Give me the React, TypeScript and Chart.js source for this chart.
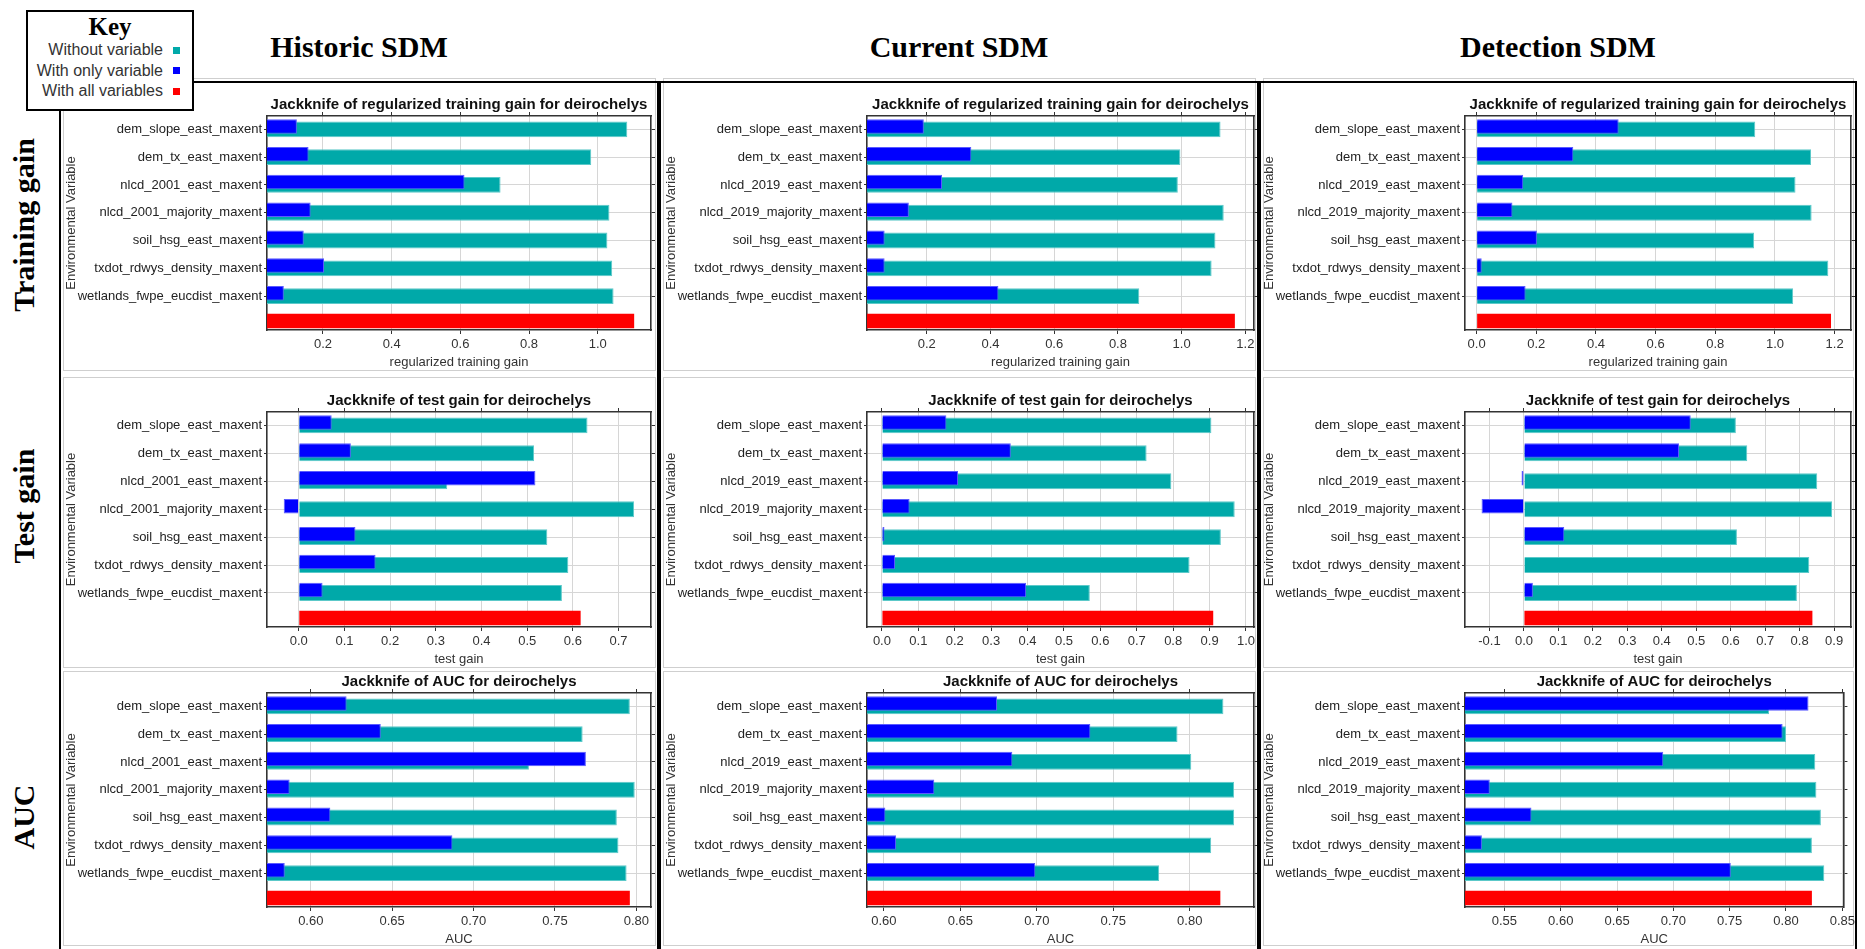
import React, { useEffect, useRef } from 'react';
import { Chart, registerables } from 'chart.js';

Chart.register(...registerables);

// ---------------- categories ----------------
const historicVariables = [
  'dem_slope_east_maxent',
  'dem_tx_east_maxent',
  'nlcd_2001_east_maxent',
  'nlcd_2001_majority_maxent',
  'soil_hsg_east_maxent',
  'txdot_rdwys_density_maxent',
  'wetlands_fwpe_eucdist_maxent',
];
const currentVariables = [
  'dem_slope_east_maxent',
  'dem_tx_east_maxent',
  'nlcd_2019_east_maxent',
  'nlcd_2019_majority_maxent',
  'soil_hsg_east_maxent',
  'txdot_rdwys_density_maxent',
  'wetlands_fwpe_eucdist_maxent',
];
const detectionVariables = [
  'dem_slope_east_maxent',
  'dem_tx_east_maxent',
  'nlcd_2019_east_maxent',
  'nlcd_2019_majority_maxent',
  'soil_hsg_east_maxent',
  'txdot_rdwys_density_maxent',
  'wetlands_fwpe_eucdist_maxent',
];

// ---------------- Historic SDM ----------------
const historicTrainWithout = [1.086, 0.981, 0.717, 1.034, 1.028, 1.042, 1.046];
const historicTrainOnly = [0.124, 0.158, 0.612, 0.164, 0.144, 0.203, 0.086];
const historicTrainAll = 1.106;
const historicTrainTicks = [0.2, 0.4, 0.6, 0.8, 1.0];
const historicTrainRange = [0.037, 1.155];

const historicTestWithout = [0.632, 0.515, 0.325, 0.734, 0.544, 0.59, 0.576];
const historicTestOnly = [0.072, 0.114, 0.518, -0.033, 0.124, 0.168, 0.052];
const historicTestAll = 0.617;
const historicTestTicks = [0.0, 0.1, 0.2, 0.3, 0.4, 0.5, 0.6, 0.7];
const historicTestRange = [-0.0696, 0.771];

const historicAucWithout = [0.796, 0.767, 0.734, 0.799, 0.788, 0.789, 0.794];
const historicAucOnly = [0.622, 0.643, 0.769, 0.587, 0.612, 0.687, 0.584];
const historicAucAll = 0.796;
const historicAucTicks = [0.6, 0.65, 0.7, 0.75, 0.8];
const historicAucRange = [0.5731, 0.809];

// ---------------- Current SDM ----------------
const currentTrainWithout = [1.122, 0.996, 0.988, 1.132, 1.106, 1.094, 0.867];
const currentTrainOnly = [0.191, 0.34, 0.248, 0.144, 0.068, 0.068, 0.425];
const currentTrainAll = 1.167;
const currentTrainTicks = [0.2, 0.4, 0.6, 0.8, 1.0, 1.2];
const currentTrainRange = [0.0127, 1.227];

const currentTestWithout = [0.905, 0.727, 0.795, 0.969, 0.931, 0.845, 0.571];
const currentTestOnly = [0.177, 0.354, 0.209, 0.076, 0.007, 0.036, 0.396];
const currentTestAll = 0.91;
const currentTestTicks = [0.0, 0.1, 0.2, 0.3, 0.4, 0.5, 0.6, 0.7, 0.8, 0.9, 1.0];
const currentTestRange = [-0.041, 1.022];

const currentAucWithout = [0.822, 0.792, 0.801, 0.829, 0.829, 0.814, 0.78];
const currentAucOnly = [0.674, 0.735, 0.684, 0.633, 0.601, 0.608, 0.699];
const currentAucAll = 0.82;
const currentAucTicks = [0.6, 0.65, 0.7, 0.75, 0.8];
const currentAucRange = [0.589, 0.842];

// ---------------- Detection SDM ----------------
const detectionTrainWithout = [0.934, 1.121, 1.069, 1.123, 0.93, 1.179, 1.061];
const detectionTrainOnly = [0.476, 0.324, 0.156, 0.12, 0.202, 0.017, 0.164];
const detectionTrainAll = 1.188;
const detectionTrainTicks = [0.0, 0.2, 0.4, 0.6, 0.8, 1.0, 1.2];
const detectionTrainRange = [-0.039, 1.255];

const detectionTestWithout = [0.615, 0.648, 0.851, 0.894, 0.618, 0.828, 0.792];
const detectionTestOnly = [0.484, 0.45, -0.007, -0.123, 0.117, 0.0, 0.026];
const detectionTestAll = 0.837;
const detectionTestTicks = [-0.1, 0.0, 0.1, 0.2, 0.3, 0.4, 0.5, 0.6, 0.7, 0.8, 0.9];
const detectionTestRange = [-0.171, 0.949];

const detectionAucWithout = [0.785, 0.8, 0.826, 0.827, 0.831, 0.823, 0.834];
const detectionAucOnly = [0.82, 0.797, 0.691, 0.537, 0.574, 0.53, 0.751];
const detectionAucAll = 0.823;
const detectionAucTicks = [0.55, 0.6, 0.65, 0.7, 0.75, 0.8, 0.85];
const detectionAucRange = [0.515, 0.851];

// ---------------- text ----------------
const columnTitles = ['Historic SDM', 'Current SDM', 'Detection SDM'];
const rowTitles = ['Training gain', 'Test gain', 'AUC'];
const panelTitles = [
  'Jackknife of regularized training gain for deirochelys',
  'Jackknife of test gain for deirochelys',
  'Jackknife of AUC for deirochelys',
];
const xAxisTitles = ['regularized training gain', 'test gain', 'AUC'];
const yAxisTitle = 'Environmental Variable';
const keyLabels = ['Without variable', 'With only variable', 'With all variables'];

// ---------------- style ----------------
const TEAL = '#00A9A9';
const TEAL_EDGE = '#5cc9c9';
const BLUE = '#0000FF';
const BLUE_EDGE = '#5a5aff';
const RED = '#FF0000';
const SANS = '"Liberation Sans", Arial, Helvetica, sans-serif';
const SERIF = '"Liberation Serif", "Times New Roman", Times, serif';

type PanelCfg = {
  labels: string[];
  without: number[];
  only: number[];
  all: number;
  ticks: number[];
  range: number[];
  decimals: number;
  row: number;
  col: number;
};

const panels: PanelCfg[] = [
  { labels: historicVariables, without: historicTrainWithout, only: historicTrainOnly, all: historicTrainAll, ticks: historicTrainTicks, range: historicTrainRange, decimals: 1, row: 0, col: 0 },
  { labels: historicVariables, without: historicTestWithout, only: historicTestOnly, all: historicTestAll, ticks: historicTestTicks, range: historicTestRange, decimals: 1, row: 1, col: 0 },
  { labels: historicVariables, without: historicAucWithout, only: historicAucOnly, all: historicAucAll, ticks: historicAucTicks, range: historicAucRange, decimals: 2, row: 2, col: 0 },
  { labels: currentVariables, without: currentTrainWithout, only: currentTrainOnly, all: currentTrainAll, ticks: currentTrainTicks, range: currentTrainRange, decimals: 1, row: 0, col: 1 },
  { labels: currentVariables, without: currentTestWithout, only: currentTestOnly, all: currentTestAll, ticks: currentTestTicks, range: currentTestRange, decimals: 1, row: 1, col: 1 },
  { labels: currentVariables, without: currentAucWithout, only: currentAucOnly, all: currentAucAll, ticks: currentAucTicks, range: currentAucRange, decimals: 2, row: 2, col: 1 },
  { labels: detectionVariables, without: detectionTrainWithout, only: detectionTrainOnly, all: detectionTrainAll, ticks: detectionTrainTicks, range: detectionTrainRange, decimals: 1, row: 0, col: 2 },
  { labels: detectionVariables, without: detectionTestWithout, only: detectionTestOnly, all: detectionTestAll, ticks: detectionTestTicks, range: detectionTestRange, decimals: 1, row: 1, col: 2 },
  { labels: detectionVariables, without: detectionAucWithout, only: detectionAucOnly, all: detectionAucAll, ticks: detectionAucTicks, range: detectionAucRange, decimals: 2, row: 2, col: 2 },
];

// ---------------- layout ----------------
const PLOT_LEFT = [267, 867, 1465];
const PLOT_WIDTH = [384, 387, 386];
const RIGHT_PAD = [14, 14, 7];
const PLOT_TOP = [116, 412, 693];
const PLOT_HEIGHT = [214, 215, 214];
const Y_AXIS_W = 203;
const X_AXIS_H = 40;
const TOP_PAD = 24;
const COL_BOX_LEFT = [59, 659, 1259];
const COL_BOX_WIDTH = [600, 600, 598];
// category axis spans from -0.48 to +7.22 (last, un-labelled slot is a bit tighter)
const CAT_START = -0.48;
const CAT_SPAN = 7.7;

const plotTitlePlugin = {
  id: 'plotTitle',
  afterDraw(chart: any, _args: any, opts: any) {
    const { ctx, chartArea } = chart;
    ctx.save();
    ctx.font = `bold 15px ${SANS}`;
    ctx.fillStyle = '#111';
    ctx.textAlign = 'center';
    ctx.textBaseline = 'middle';
    ctx.fillText(opts.text, (chartArea.left + chartArea.right) / 2, chartArea.top - 11);
    ctx.restore();
  },
};

const shiftUpPlugin = {
  id: 'shiftUp',
  afterDatasetsUpdate(chart: any) {
    chart.data.datasets.forEach((ds: any, i: number) => {
      if (!ds.shiftUp) return;
      const meta = chart.getDatasetMeta(i);
      meta.data.forEach((el: any) => {
        if (el && typeof el.height === 'number') el.y -= el.height * 0.2;
      });
    });
  },
};

function setCategorySpan(scale: any) {
  scale._startValue = CAT_START;
  scale._valueRange = CAT_SPAN;
}

function buildConfig(p: PanelCfg, title: string, xTitle: string): any {
  const n = p.labels.length;
  const labels = [...p.labels, ''];
  const only = [...p.only, null];
  const without = [...p.without, null];
  const all = [...p.labels.map(() => null), p.all];
  const gridColor = (ctx: any) => (ctx.index === n ? 'rgba(0,0,0,0)' : '#d6d6d6');
  const tickMarkColor = (ctx: any) => (ctx.index === n ? 'rgba(0,0,0,0)' : '#333');
  const fixTicks = (scale: any) => {
    scale.ticks = p.ticks.map((v) => ({ value: v }));
  };
  const border = { color: '#333', width: 1.6 };
  return {
    type: 'bar',
    data: {
      labels,
      datasets: [
        { label: keyLabels[1], data: only, backgroundColor: BLUE, borderColor: BLUE_EDGE, borderWidth: 1, barPercentage: 0.52, categoryPercentage: 1, grouped: false, order: 0, shiftUp: true, xAxisID: 'x', yAxisID: 'y' },
        { label: keyLabels[0], data: without, backgroundColor: TEAL, borderColor: TEAL_EDGE, borderWidth: 1, barPercentage: 0.57, categoryPercentage: 1, grouped: false, order: 1, xAxisID: 'x', yAxisID: 'y' },
        { label: keyLabels[2], data: all, backgroundColor: RED, borderWidth: 0, barPercentage: 0.52, categoryPercentage: 1, grouped: false, order: 2, shiftUp: true, xAxisID: 'x', yAxisID: 'y' },
      ],
    },
    options: {
      indexAxis: 'y',
      responsive: false,
      maintainAspectRatio: false,
      animation: false,
      events: [],
      layout: { padding: { top: TOP_PAD, right: RIGHT_PAD[p.col], bottom: 0, left: 0 } },
      plugins: {
        legend: { display: false },
        tooltip: { enabled: false },
        title: { display: false },
        plotTitle: { text: title },
      },
      scales: {
        x: {
          type: 'linear',
          position: 'bottom',
          min: p.range[0],
          max: p.range[1],
          afterBuildTicks: fixTicks,
          afterFit: (s: any) => { s.height = X_AXIS_H; },
          grid: { color: '#d6d6d6', drawTicks: true, tickLength: 4, tickColor: '#333' },
          border,
          ticks: {
            font: { family: SANS, size: 13 },
            color: '#333',
            padding: 3,
            maxRotation: 0,
            autoSkip: false,
            callback: (v: any) => Number(v).toFixed(p.decimals),
          },
          title: { display: true, text: xTitle, font: { family: SANS, size: 13 }, color: '#333', padding: 0 },
        },
        xTop: {
          type: 'linear',
          axis: 'x',
          position: 'top',
          min: p.range[0],
          max: p.range[1],
          afterBuildTicks: fixTicks,
          afterFit: (s: any) => { s.height = 0; },
          grid: { drawOnChartArea: false, drawTicks: true, tickLength: 4, tickColor: '#333' },
          border,
          ticks: { display: false },
        },
        y: {
          type: 'category',
          position: 'left',
          offset: true,
          afterBuildTicks: setCategorySpan,
          afterFit: (s: any) => { s.width = Y_AXIS_W; },
          grid: { offset: false, color: gridColor, drawTicks: true, tickLength: 3, tickColor: tickMarkColor },
          border,
          ticks: { font: { family: SANS, size: 13 }, color: '#222', padding: 2, autoSkip: false },
          title: { display: true, text: yAxisTitle, font: { family: SANS, size: 13 }, color: '#333', padding: 0 },
        },
        yRight: {
          type: 'category',
          axis: 'y',
          position: 'right',
          offset: true,
          afterBuildTicks: setCategorySpan,
          afterFit: (s: any) => { s.width = 0; },
          grid: { offset: false, drawOnChartArea: false, drawTicks: true, tickLength: 4, tickColor: tickMarkColor },
          border,
          ticks: { display: false },
        },
      },
    },
    plugins: [plotTitlePlugin, shiftUpPlugin],
  };
}

function Panel({ cfg }: { cfg: PanelCfg }) {
  const ref = useRef<HTMLCanvasElement | null>(null);
  const left = PLOT_LEFT[cfg.col] - Y_AXIS_W;
  const top = PLOT_TOP[cfg.row] - TOP_PAD;
  const width = Y_AXIS_W + PLOT_WIDTH[cfg.col] + RIGHT_PAD[cfg.col];
  const height = TOP_PAD + PLOT_HEIGHT[cfg.row] + X_AXIS_H;
  useEffect(() => {
    if (!ref.current) return;
    const chart = new Chart(ref.current, buildConfig(cfg, panelTitles[cfg.row], xAxisTitles[cfg.row]));
    return () => chart.destroy();
  }, [cfg]);
  return (
    <canvas
      ref={ref}
      width={width}
      height={height}
      style={{ position: 'absolute', left, top, width, height, zIndex: 2 }}
    />
  );
}

const ROW_TITLE_Y = [225, 506, 817];
const FRAME_Y = [
  [78, 371],
  [377, 668],
  [671, 946],
];

export default function App() {
  const keyColors = [TEAL, BLUE, RED];
  return (
    <div
      style={{
        position: 'absolute',
        left: 0,
        top: 0,
        width: 1865,
        height: 949,
        overflow: 'hidden',
        background: '#fff',
        fontFamily: SANS,
      }}
    >
      {/* light gray frames of each sub-figure */}
      {COL_BOX_LEFT.map((cl, c) =>
        FRAME_Y.map(([y0, y1], r) => (
          <div
            key={`f${c}${r}`}
            style={{
              position: 'absolute',
              left: cl + 4,
              top: y0,
              width: COL_BOX_WIDTH[c] - 7,
              height: y1 - y0,
              border: '1px solid #cfcfcf',
              boxSizing: 'border-box',
              zIndex: 1,
            }}
          />
        ))
      )}
      {/* column boxes */}
      {COL_BOX_LEFT.map((cl, c) => (
        <div
          key={`c${c}`}
          style={{
            position: 'absolute',
            left: cl,
            top: 81,
            width: COL_BOX_WIDTH[c],
            height: 900,
            border: '2px solid #000',
            boxSizing: 'border-box',
            zIndex: 3,
            pointerEvents: 'none',
          }}
        />
      ))}
      {/* column titles */}
      {columnTitles.map((t, c) => (
        <div
          key={`t${c}`}
          style={{
            position: 'absolute',
            left: COL_BOX_LEFT[c],
            top: 31,
            width: COL_BOX_WIDTH[c],
            height: 32,
            lineHeight: '32px',
            textAlign: 'center',
            fontFamily: SERIF,
            fontWeight: 'bold',
            fontSize: 30,
            color: '#000',
          }}
        >
          {t}
        </div>
      ))}
      {/* row titles */}
      {rowTitles.map((t, r) => (
        <div
          key={`r${r}`}
          style={{
            position: 'absolute',
            left: 24 - 150,
            top: ROW_TITLE_Y[r] - 16,
            width: 300,
            height: 32,
            lineHeight: '32px',
            textAlign: 'center',
            fontFamily: SERIF,
            fontWeight: 'bold',
            fontSize: 30,
            color: '#000',
            transform: 'rotate(-90deg)',
            transformOrigin: 'center center',
          }}
        >
          {t}
        </div>
      ))}
      {/* key box */}
      <div
        style={{
          position: 'absolute',
          left: 26,
          top: 10,
          width: 168,
          height: 101,
          border: '2px solid #000',
          boxSizing: 'border-box',
          background: '#fff',
          zIndex: 5,
        }}
      >
        <div
          style={{
            position: 'absolute',
            left: 0,
            top: 2,
            width: '100%',
            textAlign: 'center',
            fontFamily: SERIF,
            fontWeight: 'bold',
            fontSize: 25,
            lineHeight: '26px',
          }}
        >
          Key
        </div>
        {keyLabels.map((l, i) => (
          <div
            key={l}
            style={{
              position: 'absolute',
              right: 12,
              top: 28 + i * 20.5,
              height: 20,
              display: 'flex',
              alignItems: 'center',
              fontSize: 16,
              color: '#333',
              whiteSpace: 'nowrap',
            }}
          >
            <span>{l}</span>
            <span
              style={{
                display: 'inline-block',
                width: 7,
                height: 7,
                marginLeft: 10,
                background: keyColors[i],
              }}
            />
          </div>
        ))}
      </div>
      {panels.map((p, i) => (
        <Panel key={i} cfg={p} />
      ))}
    </div>
  );
}
